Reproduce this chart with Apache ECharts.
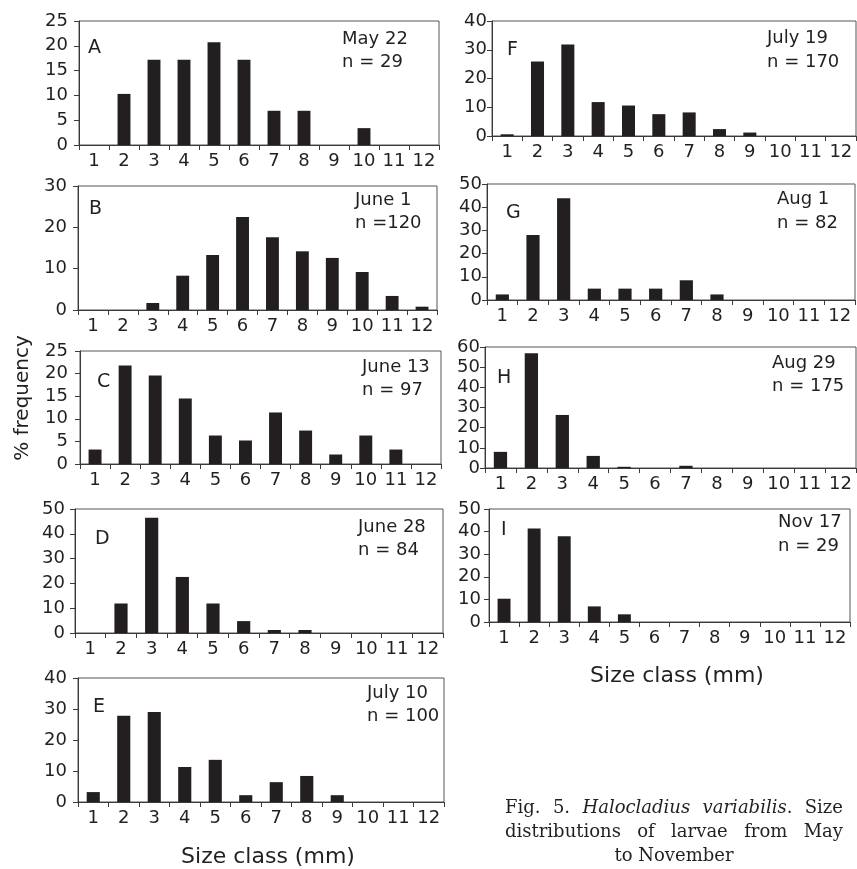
<!DOCTYPE html>
<html><head><meta charset="utf-8">
<script src="https://cdn.jsdelivr.net/npm/echarts@6/dist/echarts.min.js"></script>
<style>html,body{margin:0;padding:0;background:#fff}#c{width:857px;height:869px}</style>
</head><body><div id="c"></div>
<script>
// ---- data ----
const sizeClasses = ['1','2','3','4','5','6','7','8','9','10','11','12'];
const panelLetters = ['A','B','C','D','E','F','G','H','I'];
const panelDates = ['May 22','June 1','June 13','June 28','July 10','July 19','Aug 1','Aug 29','Nov 17'];
const panelN = ['n = 29','n =120','n = 97','n = 84','n = 100','n = 170','n = 82','n = 175','n = 29'];
const yMaxes = [25, 30, 25, 50, 40, 40, 50, 60, 50];
const ySteps = [5, 10, 5, 10, 10, 10, 10, 10, 10];
const valuesA = [0, 10.3, 17.2, 17.2, 20.7, 17.2, 6.9, 6.9, 0, 3.4, 0, 0];
const valuesB = [0, 0, 1.7, 8.3, 13.3, 22.5, 17.6, 14.2, 12.6, 9.2, 3.4, 0.8];
const valuesC = [3.2, 21.8, 19.6, 14.5, 6.3, 5.2, 11.4, 7.4, 2.1, 6.3, 3.2, 0];
const valuesD = [0, 11.9, 46.5, 22.6, 11.9, 4.8, 1.2, 1.2, 0, 0, 0, 0];
const valuesE = [3.2, 27.8, 29.0, 11.3, 13.6, 2.2, 6.4, 8.4, 2.2, 0, 0, 0];
const valuesF = [0.6, 25.9, 31.8, 11.8, 10.6, 7.6, 8.2, 2.4, 1.2, 0, 0, 0];
const valuesG = [2.4, 28.0, 43.9, 4.9, 4.9, 4.9, 8.5, 2.4, 0, 0, 0, 0];
const valuesH = [8.0, 56.9, 26.3, 6.0, 0.6, 0, 1.1, 0, 0, 0, 0, 0];
const valuesI = [10.3, 41.4, 37.9, 6.9, 3.4, 0, 0, 0, 0, 0, 0, 0];
const yAxisTitle = '% frequency';
const xAxisTitle = 'Size class (mm)';
const captionLines = [
  [[['Fig.', 0]], [['5.', 0]], [['Halocladius', 1]], [['variabilis', 1], ['.', 0]], [['Size', 0]]],
  [[['distributions', 0]], [['of', 0]], [['larvae', 0]], [['from', 0]], [['May', 0]]],
  [[['to', 0]], [['November', 0]]]
];

// ---- layout ----
const allValues = [valuesA, valuesB, valuesC, valuesD, valuesE, valuesF, valuesG, valuesH, valuesI];
const grids = [
  {left: 79, top: 21, width: 360, height: 124},
  {left: 78, top: 186, width: 359, height: 124},
  {left: 80, top: 351, width: 361, height: 113},
  {left: 75, top: 509, width: 368, height: 124},
  {left: 78, top: 678, width: 366, height: 124},
  {left: 492, top: 21, width: 364, height: 115},
  {left: 487, top: 184, width: 368, height: 116},
  {left: 485, top: 347, width: 371, height: 121},
  {left: 489, top: 509, width: 361, height: 113}
];
const yLabelMargins = [11, 11, 12, 10, 11, 5, 5, 5, 8];
const letterPos = [[88,48],[89,209],[97,382],[95,539],[93,707],[507,50],[506,213],[497,378],[501,530]];
const datePos = [[342,39,62],[355,200,223],[362,367,390],[358,527,550],[367,693,716],[767,38,62],[777,199,223],[772,363,386],[778,522,546]];

const TXT = '#231f20';
const SANS = '"DejaVu Sans"';
const axisColor = '#3a3a3a';

const option = {
  animation: false,
  backgroundColor: '#ffffff',
  grid: grids.map(g => Object.assign({show: true, borderColor: '#555', borderWidth: 1, backgroundColor: 'transparent', containLabel: false}, g)),
  xAxis: grids.map((g, i) => ({
    type: 'category', gridIndex: i, data: sizeClasses, boundaryGap: true,
    axisLine: {show: true, lineStyle: {color: axisColor, width: 1}},
    axisTick: {show: true, interval: 0, length: 5, alignWithLabel: false, lineStyle: {color: axisColor}},
    axisLabel: {interval: 0, margin: 7, fontSize: 18, fontFamily: SANS, color: TXT},
    splitLine: {show: false}
  })),
  yAxis: grids.map((g, i) => ({
    type: 'value', gridIndex: i, min: 0, max: yMaxes[i], interval: ySteps[i],
    axisLine: {show: true, lineStyle: {color: axisColor, width: 1}},
    axisTick: {show: true, length: 5, lineStyle: {color: axisColor}},
    axisLabel: {margin: yLabelMargins[i], fontSize: 18, fontFamily: SANS, color: TXT},
    splitLine: {show: false}
  })),
  series: allValues.map((vals, i) => ({
    type: 'bar', xAxisIndex: i, yAxisIndex: i, data: vals, barWidth: '43%',
    itemStyle: {color: '#231f20'}, silent: true
  })),
  graphic: []
};

const gfx = option.graphic;
function addText(text, x, y, size, opts) {
  opts = opts || {};
  gfx.push({
    type: 'text', x: x, y: y, rotation: opts.rotation || 0, silent: true,
    style: {text: text, font: (opts.style || '') + ' ' + size + 'px ' + (opts.family || SANS),
      fill: TXT, align: opts.align || 'left', verticalAlign: 'middle',
      textAlign: opts.align || 'left', textVerticalAlign: 'middle'}
  });
}
for (let i = 0; i < 9; i++) {
  addText(panelLetters[i], letterPos[i][0], letterPos[i][1], 19);
  addText(panelDates[i], datePos[i][0], datePos[i][1], 18);
  addText(panelN[i], datePos[i][0], datePos[i][2], 18);
}
addText(yAxisTitle, 23, 398, 20, {align: 'center', rotation: Math.PI / 2});
addText(xAxisTitle, 268, 857, 22, {align: 'center'});
addText(xAxisTitle, 677, 676, 22, {align: 'center'});

// caption, justified lines
const SERIF = '"DejaVu Serif"';
const capSize = 18, capLeft = 505, capRight = 843, capYs = [808, 832, 856];
const mctx = document.createElement('canvas').getContext('2d');
function fontOf(it) { return (it ? 'italic ' : '') + capSize + 'px ' + SERIF; }
function wordWidth(w) {
  let s = 0;
  w.forEach(p => { mctx.font = fontOf(p[1]); s += mctx.measureText(p[0]).width; });
  return s;
}
captionLines.forEach((line, li) => {
  const widths = line.map(wordWidth);
  const total = widths.reduce((a, b) => a + b, 0);
  let x, gap;
  if (li < captionLines.length - 1) {
    gap = (capRight - capLeft - total) / (line.length - 1);
    x = capLeft;
  } else {
    mctx.font = fontOf(0);
    gap = mctx.measureText(' ').width;
    const w = total + gap * (line.length - 1);
    x = (capLeft + capRight) / 2 - w / 2;
  }
  line.forEach((w, wi) => {
    let px = x;
    w.forEach(p => {
      addText(p[0], px, capYs[li], capSize, {family: SERIF, style: p[1] ? 'italic' : ''});
      mctx.font = fontOf(p[1]);
      px += mctx.measureText(p[0]).width;
    });
    x += widths[wi] + gap;
  });
});

const chart = echarts.init(document.getElementById('c'), null, {renderer: 'canvas'});
chart.setOption(option);
</script>
</body></html>
